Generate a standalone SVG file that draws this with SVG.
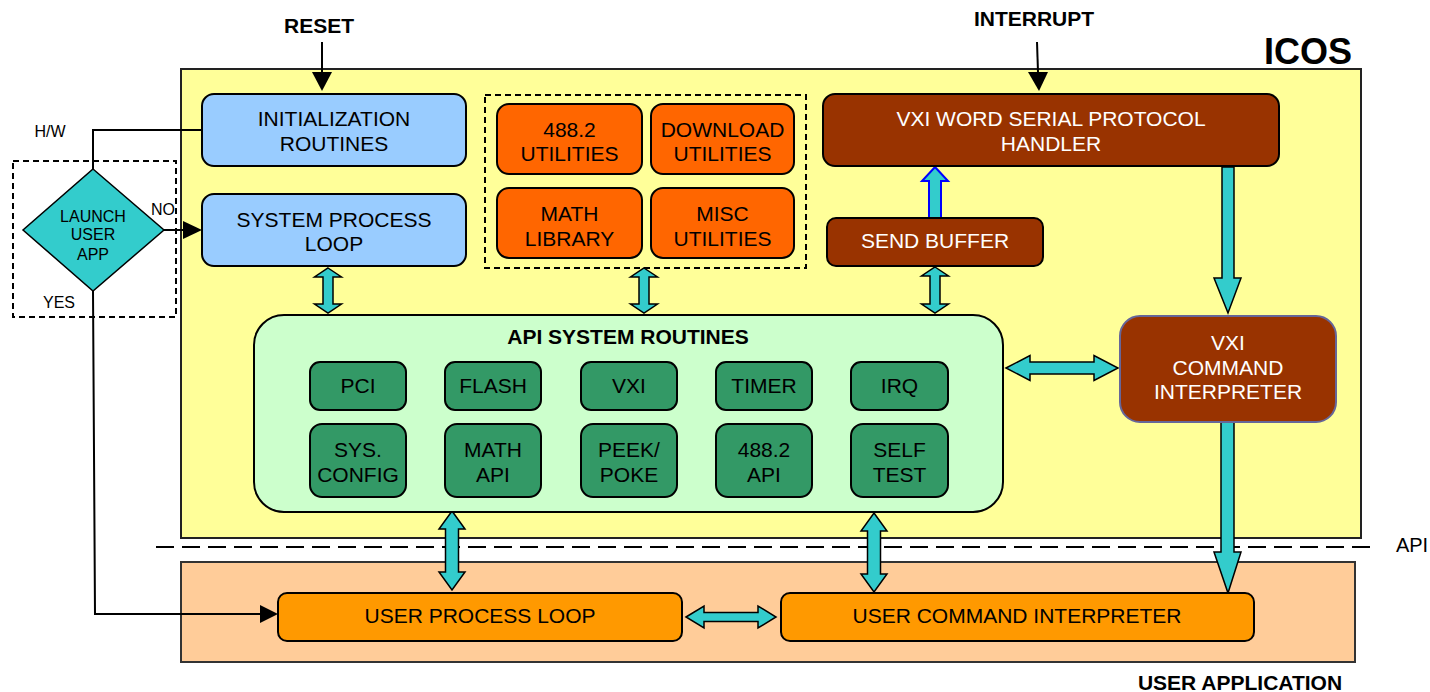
<svg xmlns="http://www.w3.org/2000/svg" width="1430" height="692" viewBox="0 0 1430 692">
<style>
text{font-family:"Liberation Sans",Arial,sans-serif;font-size:21px;text-anchor:middle;fill:#000}
.b{font-weight:bold}
.w{fill:#fff}
.sm{font-size:16px}
.box{stroke:#000;stroke-width:2}
.blue{fill:#99CCFF}
.org{fill:#FF6600}
.brn{fill:#993300}
.grn{fill:#339966}
.uo{fill:#FF9900}
.ar{fill:#33CCCC;stroke:#000;stroke-width:1.5;stroke-linejoin:miter}
.ln{fill:none;stroke:#000;stroke-width:2}
.dash{fill:none;stroke:#000;stroke-width:2;stroke-dasharray:6 4}
</style>
<rect width="1430" height="692" fill="#fff"/>
<g id="icos">
<rect x="181" y="69" width="1180" height="469" fill="#FFFF99" stroke="#222" stroke-width="2"/>
<text class="b" x="1308" y="64" style="font-size:36px">ICOS</text>
</g>
<g id="user-application">
<rect x="181" y="562" width="1174" height="100" fill="#FFCC99" stroke="#333" stroke-width="2"/>
<text class="b" x="1240" y="690">USER APPLICATION</text>
</g>
<g id="api-line">
<line x1="156" y1="547" x2="1376" y2="547" stroke="#000" stroke-width="2" stroke-dasharray="18 8"/>
<text x="1412" y="552" style="font-size:20px">API</text>
</g>
<g id="launch-group">
<rect x="13" y="161" width="163" height="156" class="dash"/>
</g>
<g id="utilities-group">
<rect x="485" y="95" width="321" height="173" class="dash"/>
</g>
<g id="connectors">
<line x1="322" y1="42" x2="322" y2="72" class="ln"/>
<polygon points="312,72 332,72 322,91" fill="#000"/>
<line x1="1037" y1="42" x2="1038" y2="72" class="ln"/>
<polygon points="1028,72 1048,72 1039,91" fill="#000"/>
<polyline points="202,130 93,130 93,169" class="ln"/>
<line x1="164" y1="230" x2="184" y2="230" class="ln"/>
<polygon points="183,221 202,230 183,239" fill="#000"/>
<polyline points="93,291 95,614 261,614" class="ln"/>
<polygon points="260,605 278,614 260,623" fill="#000"/>
<polygon class="ar" points="328,268 341.5,277 333,277 333,304 341.5,304 328,313 314.5,304 323,304 323,277 314.5,277"/>
<polygon class="ar" points="644,268 657.5,277 649,277 649,304 657.5,304 644,313 630.5,304 639,304 639,277 630.5,277"/>
<polygon class="ar" points="935,267 948.5,276 940,276 940,304 948.5,304 935,313 921.5,304 930,304 930,276 921.5,276"/>
<polygon points="935,167 948,181 941,181 941,218 929,218 929,181 922,181" fill="#33CCCC" stroke="#0000FF" stroke-width="2"/>
<polygon class="ar" points="1222,167 1234,167 1234,278 1241,278 1228,313 1214,278 1222,278"/>
<polygon class="ar" points="1221,422 1234,422 1234,552 1241,552 1228,593 1214,552 1221,552"/>
<polygon class="ar" points="1006,368 1030,355.5 1030,362 1094,362 1094,355.5 1118,368 1094,380.5 1094,374 1030,374 1030,380.5"/>
<polygon class="ar" points="452,511 465,529 458.5,529 458.5,572 465,572 452,590 439,572 445.5,572 445.5,529 439,529"/>
<polygon class="ar" points="874,513 887,531 880.5,531 880.5,574 887,574 874,592 861,574 867.5,574 867.5,531 861,531"/>
<polygon class="ar" points="686,617 704,606 704,612.5 758,612.5 758,606 776,617 758,628 758,621.5 704,621.5 704,628"/>
</g>
<g id="labels">
<text class="b" x="319" y="33">RESET</text>
<text class="b" x="1034" y="26">INTERRUPT</text>
<text class="sm" x="50" y="137">H/W</text>
<text class="sm" x="163" y="215">NO</text>
<text class="sm" x="59" y="308">YES</text>
</g>
<g id="launch-user-app">
<polygon points="93,169 164,230 93,291 23,230" fill="#33CCCC" stroke="#000" stroke-width="1.5"/>
<text x="93" y="222" style="font-size:16px">LAUNCH</text>
<text x="93" y="240" style="font-size:16px">USER</text>
<text x="93" y="260" style="font-size:16px">APP</text>
</g>
<g id="init-routines">
<rect x="202" y="94" width="264" height="72" rx="12" class="box blue"/>
<text x="334" y="126">INITIALIZATION</text><text x="334" y="151">ROUTINES</text>
</g>
<g id="system-process-loop">
<rect x="202" y="194" width="264" height="72" rx="12" class="box blue"/>
<text x="334" y="227">SYSTEM PROCESS</text><text x="334" y="251">LOOP</text>
</g>
<g id="u488">
<rect x="497" y="104" width="145" height="70" rx="12" class="box org"/>
<text x="569.5" y="137">488.2</text><text x="569.5" y="161">UTILITIES</text>
</g>
<g id="download">
<rect x="651" y="104" width="143" height="70" rx="12" class="box org"/>
<text x="722.5" y="137">DOWNLOAD</text><text x="722.5" y="161">UTILITIES</text>
</g>
<g id="math-library">
<rect x="497" y="188" width="145" height="70" rx="12" class="box org"/>
<text x="569.5" y="221">MATH</text><text x="569.5" y="246">LIBRARY</text>
</g>
<g id="misc">
<rect x="651" y="188" width="143" height="70" rx="12" class="box org"/>
<text x="722.5" y="221">MISC</text><text x="722.5" y="246">UTILITIES</text>
</g>
<g id="vxi-wsp">
<rect x="823" y="94" width="456" height="72" rx="12" class="box brn"/>
<text class="w" x="1051" y="126">VXI WORD SERIAL PROTOCOL</text><text class="w" x="1051" y="151">HANDLER</text>
</g>
<g id="send-buffer">
<rect x="827" y="218" width="216" height="48" rx="9" class="box brn"/>
<text class="w" x="935" y="248">SEND BUFFER</text>
</g>
<g id="vxi-ci">
<rect x="1120" y="316" width="216" height="106" rx="20" class="brn" stroke="#666699" stroke-width="2"/>
<text class="w" x="1228" y="350">VXI</text><text class="w" x="1228" y="375">COMMAND</text><text class="w" x="1228" y="399">INTERPRETER</text>
</g>
<g id="api-system-routines">
<rect x="254" y="315" width="749" height="197" rx="30" fill="#CCFFCC" stroke="#000" stroke-width="2"/>
<text class="b" x="628" y="344">API SYSTEM ROUTINES</text>
</g>
<g id="pci"><rect x="310" y="362" width="96" height="48" rx="10" class="box grn"/><text x="358" y="393">PCI</text></g>
<g id="flash"><rect x="445" y="362" width="96" height="48" rx="10" class="box grn"/><text x="493" y="393">FLASH</text></g>
<g id="vxi"><rect x="581" y="362" width="96" height="48" rx="10" class="box grn"/><text x="629" y="393">VXI</text></g>
<g id="timer"><rect x="716" y="362" width="96" height="48" rx="10" class="box grn"/><text x="764" y="393">TIMER</text></g>
<g id="irq"><rect x="851" y="362" width="97" height="48" rx="10" class="box grn"/><text x="899.5" y="393">IRQ</text></g>
<g id="sys-config"><rect x="310" y="424" width="96" height="73" rx="12" class="box grn"/><text x="358" y="457">SYS.</text><text x="358" y="482">CONFIG</text></g>
<g id="math-api"><rect x="445" y="424" width="96" height="73" rx="12" class="box grn"/><text x="493" y="457">MATH</text><text x="493" y="482">API</text></g>
<g id="peek-poke"><rect x="581" y="424" width="96" height="73" rx="12" class="box grn"/><text x="629" y="457">PEEK/</text><text x="629" y="482">POKE</text></g>
<g id="api488"><rect x="716" y="424" width="96" height="73" rx="12" class="box grn"/><text x="764" y="457">488.2</text><text x="764" y="482">API</text></g>
<g id="self-test"><rect x="851" y="424" width="97" height="73" rx="12" class="box grn"/><text x="899.5" y="457">SELF</text><text x="899.5" y="482">TEST</text></g>
<g id="user-process-loop">
<rect x="278" y="593" width="404" height="48" rx="9" class="box uo"/>
<text x="480" y="623">USER PROCESS LOOP</text>
</g>
<g id="user-command-interpreter">
<rect x="781" y="593" width="473" height="48" rx="9" class="box uo"/>
<text x="1017" y="623">USER COMMAND INTERPRETER</text>
</g>
</svg>
